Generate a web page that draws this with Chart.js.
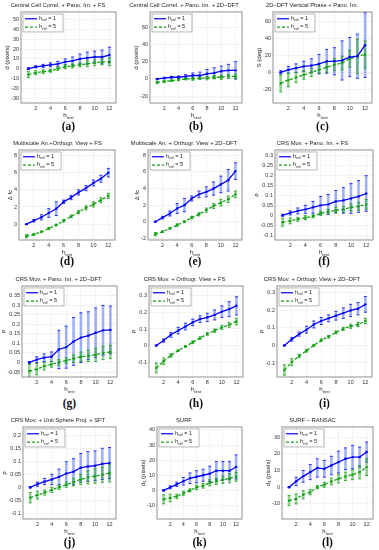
<!DOCTYPE html>
<html>
<head>
<meta charset="utf-8">
<script src="https://cdn.jsdelivr.net/npm/chart.js@4.4.1/dist/chart.umd.min.js"></script>
<style>
  body { margin: 0; background: #fff; width: 379px; height: 550px; position: relative; overflow: hidden; }
  canvas { position: absolute; }
  .cap { position: absolute; font: bold 11.5px "Liberation Serif", "DejaVu Serif", serif; color: #111; transform: translate(-50%, -50%); white-space: nowrap; }
</style>
</head>
<body>
<script>
const hTest = [1, 2, 3, 4, 5, 6, 7, 8, 9, 10, 11, 12];
const xTicks = [2, 4, 6, 8, 10, 12];

// (a)
const aMean1 = [0, 2, 3, 4, 5, 7, 8, 10, 11, 12, 12, 14];
const aErr1  = [1, 1, 1.5, 2, 2.5, 3, 4, 5, 6, 6, 7, 8];
const aMean5 = [-6, -4, -3, -2, 0, 2, 3, 4, 5, 6, 7, 7];
const aErr5  = [3, 2, 2, 1.5, 1.5, 2, 2, 2, 3, 3, 3, 4];
// (b)
const bMean1 = [0, 1, 2, 2, 3, 4, 4, 6, 7, 9, 10, 10];
const bErr1  = [0.5, 1, 1, 1.5, 2, 3, 4, 5, 6, 6, 7, 10];
const bMean5 = [-4, -3, -2, -1, 0, 0, 1, 1, 2, 2, 3, 3];
const bErr5  = [1.5, 1, 1, 1, 1, 1.5, 1.5, 2, 2, 2.5, 2.5, 3];
// (c)
const cMean1 = [0, 3, 5, 7, 8, 10, 13, 13, 14, 18, 19, 32];
const cErr1  = [2, 4, 5, 6, 8, 11, 14, 16, 23, 23, 26, 38];
const cMean5 = [-13, -9, -6, -3, 0, 3, 6, 9, 11, 16, 19, 21];
const cErr5  = [10, 8, 6, 5, 5, 5, 6, 7, 8, 10, 20, 16];
// (d)
const dMean1 = [0, 0.4, 0.8, 1.3, 1.8, 2.6, 3.1, 3.7, 4.2, 4.8, 5.3, 6.0];
const dErr1  = [0.05, 0.15, 0.3, 0.5, 0.8, 0.2, 0.25, 0.3, 0.3, 0.35, 0.4, 0.5];
const dMean5 = [-1.4, -1.2, -0.9, -0.5, -0.1, 0.4, 0.9, 1.4, 1.9, 2.3, 2.8, 3.3];
const dErr5  = [0.2, 0.1, 0.1, 0.1, 0.1, 0.15, 0.15, 0.2, 0.25, 0.3, 0.3, 0.3];
// (e)
const eMean1 = [0, 0.5, 1.0, 1.6, 2.0, 2.8, 3.3, 3.6, 4.0, 4.5, 5.0, 6.1];
const eErr1  = [0.05, 0.15, 0.3, 0.6, 0.8, 0.3, 0.4, 0.6, 0.8, 1.0, 1.3, 1.0];
const eMean5 = [-1.5, -1.2, -0.8, -0.4, 0, 0.5, 0.9, 1.4, 1.9, 2.3, 2.7, 3.3];
const eErr5  = [0.2, 0.1, 0.1, 0.15, 0.1, 0.15, 0.2, 0.25, 0.3, 0.4, 0.4, 0.4];
// (f)
const fMean1 = [0, 0.012, 0.022, 0.03, 0.04, 0.05, 0.055, 0.07, 0.075, 0.085, 0.095, 0.11];
const fErr1  = [0.005, 0.01, 0.015, 0.02, 0.03, 0.045, 0.05, 0.055, 0.065, 0.075, 0.08, 0.09];
const fMean5 = [-0.035, -0.028, -0.02, -0.012, -0.005, 0.01, 0.018, 0.025, 0.03, 0.04, 0.045, 0.055];
const fErr5  = [0.02, 0.015, 0.01, 0.01, 0.008, 0.01, 0.012, 0.015, 0.015, 0.018, 0.02, 0.025];
// (g)
const gMean1 = [0, 0.015, 0.025, 0.03, 0.068, 0.08, 0.11, 0.13, 0.14, 0.155, 0.168, 0.17];
const gErr1  = [0.005, 0.015, 0.02, 0.025, 0.1, 0.11, 0.125, 0.13, 0.125, 0.13, 0.13, 0.125];
const gMean5 = [-0.045, -0.035, -0.02, -0.01, 0, 0.01, 0.02, 0.03, 0.035, 0.04, 0.05, 0.055];
const gErr5  = [0.035, 0.03, 0.02, 0.015, 0.015, 0.015, 0.02, 0.025, 0.03, 0.035, 0.035, 0.035];
// (h)
const hMean1 = [0, 0.03, 0.065, 0.09, 0.115, 0.14, 0.16, 0.17, 0.185, 0.205, 0.22, 0.24];
const hErr1  = [0.003, 0.01, 0.015, 0.02, 0.02, 0.02, 0.02, 0.025, 0.03, 0.035, 0.045, 0.055];
const hMean5 = [-0.135, -0.095, -0.06, -0.03, -0.005, 0.02, 0.045, 0.07, 0.09, 0.11, 0.125, 0.145];
const hErr5  = [0.03, 0.02, 0.01, 0.005, 0.005, 0.008, 0.008, 0.008, 0.01, 0.012, 0.015, 0.02];
// (i)
const iMean1 = [0, 0.035, 0.065, 0.09, 0.12, 0.14, 0.155, 0.17, 0.185, 0.2, 0.21, 0.235];
const iErr1  = [0.003, 0.01, 0.012, 0.02, 0.02, 0.02, 0.02, 0.025, 0.03, 0.035, 0.035, 0.045];
const iMean5 = [-0.14, -0.095, -0.06, -0.03, 0, 0.03, 0.05, 0.075, 0.095, 0.11, 0.12, 0.14];
const iErr5  = [0.03, 0.02, 0.01, 0.008, 0.005, 0.008, 0.008, 0.008, 0.01, 0.012, 0.012, 0.015];
// (j)
const jMean1 = [0, 0.012, 0.022, 0.03, 0.04, 0.053, 0.06, 0.075, 0.08, 0.083, 0.09, 0.093];
const jErr1  = [0.003, 0.008, 0.012, 0.02, 0.03, 0.045, 0.05, 0.055, 0.057, 0.057, 0.06, 0.06];
const jMean5 = [-0.04, -0.03, -0.02, -0.01, 0, 0.01, 0.02, 0.03, 0.038, 0.043, 0.048, 0.055];
const jErr5  = [0.02, 0.015, 0.01, 0.01, 0.008, 0.01, 0.015, 0.02, 0.025, 0.028, 0.03, 0.035];
// (k)
const kMean1 = [0, 2, 4, 6, 8, 9, 10, 11, 13, 13, 13, 15.5];
const kErr1  = [0.5, 1, 1.5, 2.5, 3.5, 4, 4, 5, 6, 6, 6, 8];
const kMean5 = [-6, -5, -4, -2, 0, 2, 3, 5, 6, 7, 8, 9];
const kErr5  = [3, 2.5, 1.5, 1.5, 1, 1.5, 1.5, 2, 2, 2.5, 3, 3];
// (l)
const lMean1 = [0, 3.5, 6.5, 9, 11.5, 11, 13, 15, 17, 18, 18, 21];
const lErr1  = [0.3, 2.5, 3.5, 4.5, 5.5, 5, 5.5, 6.5, 6.5, 7, 6, 6];
const lMean5 = [-8, -7, -4.5, -3, 0, 1.5, 3.5, 5, 6.5, 7.5, 9, 12];
const lErr5  = [3, 3, 2.5, 1.5, 1, 1.5, 2, 2.5, 2.5, 3, 4, 5];

const ticksPix   = [-30, -20, -10, 0, 10, 20, 30, 40, 50];
const ticksDeg   = [-20, 0, 20, 40, 60];
const ticksFc    = [0, 2, 4, 6, 8];
const ticksFc2   = [-2, 0, 2, 4, 6, 8];
const ticksRhoF  = [-0.1, -0.05, 0, 0.05, 0.1, 0.15, 0.2, 0.25, 0.3];
const ticksRhoG  = [-0.05, 0, 0.05, 0.1, 0.15, 0.2, 0.25, 0.3, 0.35];
const ticksRhoH  = [-0.1, 0, 0.1, 0.2, 0.3];
const ticksRhoJ  = [-0.1, -0.05, 0, 0.05, 0.1, 0.15, 0.2];
const ticksSurfK = [-10, 0, 10, 20, 30, 40];
const ticksSurfL = [-10, 0, 10, 20, 30];

const FONT = '"Liberation Sans", Arial, sans-serif';
const colX = [0, 126, 252], colW = [126, 126, 127];
const rowTop = [12, 150, 286, 427], rowH = [91, 90, 91, 92], capY = [126, 261, 403, 542];

const panels = [
  { tag: '(a)', r: 0, c: 0, pl: 21, pr: 116, title: 'Central Cell Correl. + Pano. Im. + FS', yl: [['d (pixels)']], min: -35, max: 58, ticks: ticksPix, s: [aMean1, aErr1, aMean5, aErr5] },
  { tag: '(b)', r: 0, c: 1, pl: 150, pr: 242, title: 'Central Cell Correl. + Pano. Im. + 2D\u2212DFT', yl: [['d (pixels)']], min: -28, max: 78, ticks: ticksDeg, s: [bMean1, bErr1, bMean5, bErr5] },
  { tag: '(c)', r: 0, c: 2, pl: 273, pr: 372, title: '2D\u2212DFT Vertical Phase + Pano. Im.', yl: [['S (deg)']], min: -36, max: 71, ticks: ticksDeg, s: [cMean1, cErr1, cMean5, cErr5] },
  { tag: '(d)', r: 1, c: 0, pl: 19, pr: 115, title: 'Multiscale An.+Orthogr. View + FS', yl: [['\u0394 fc']], min: -1.85, max: 8.65, ticks: ticksFc, s: [dMean1, dErr1, dMean5, dErr5] },
  { tag: '(e)', r: 1, c: 1, pl: 148, pr: 242, title: 'Multiscale An. + Orthogr. View + 2D\u2212DFT', yl: [['\u0394 fc']], min: -2.2, max: 8.65, ticks: ticksFc2, s: [eMean1, eErr1, eMean5, eErr5] },
  { tag: '(f)', r: 1, c: 2, pl: 275, pr: 373, title: 'CRS Mov. + Pano. Im. + FS', yl: [['\u03c1']], min: -0.125, max: 0.33, ticks: ticksRhoF, s: [fMean1, fErr1, fMean5, fErr5] },
  { tag: '(g)', r: 2, c: 0, pl: 22, pr: 117, title: 'CRS Mov. + Pano. Im. + 2D\u2212DFT', yl: [['\u03c1']], min: -0.076, max: 0.4, ticks: ticksRhoG, s: [gMean1, gErr1, gMean5, gErr5] },
  { tag: '(h)', r: 2, c: 1, pl: 149, pr: 243, title: 'CRS Mov. + Orthogr. View + FS', yl: [['\u03c1']], min: -0.19, max: 0.36, ticks: ticksRhoH, s: [hMean1, hErr1, hMean5, hErr5] },
  { tag: '(i)', r: 2, c: 2, pl: 277, pr: 372, title: 'CRS Mov. + Orthogr. View + 2D\u2212DFT', yl: [['\u03c1']], min: -0.18, max: 0.34, ticks: ticksRhoH, s: [iMean1, iErr1, iMean5, iErr5] },
  { tag: '(j)', r: 3, c: 0, pl: 23, pr: 116, title: 'CRS Mov. + Unit Sphere Proj. + SFT', yl: [['\u03c1']], min: -0.122, max: 0.232, ticks: ticksRhoJ, s: [jMean1, jErr1, jMean5, jErr5] },
  { tag: '(k)', r: 3, c: 1, pl: 157, pr: 242, title: 'SURF', yl: [['d'], ['1', 1], [' (pixels)']], min: -19, max: 42, ticks: ticksSurfK, s: [kMean1, kErr1, kMean5, kErr5] },
  { tag: '(l)', r: 3, c: 2, pl: 282, pr: 373, title: 'SURF \u2212 RANSAC', yl: [['d'], ['1', 1], [' (pixels)']], min: -19, max: 36, ticks: ticksSurfL, s: [lMean1, lErr1, lMean5, lErr5] }
];

// text with subscripts: parts = [[text, isSub], ...]
function richText(ctx, parts, x, y, size, center) {
  const widths = parts.map(([t, sub]) => {
    ctx.font = (sub ? size * 0.72 : size) + 'px ' + FONT;
    return ctx.measureText(t).width;
  });
  let cx = center ? x - widths.reduce((a, b) => a + b, 0) / 2 : x;
  parts.forEach(([t, sub], i) => {
    ctx.font = (sub ? size * 0.72 : size) + 'px ' + FONT;
    ctx.fillText(t, cx, sub ? y + size * 0.35 : y);
    cx += widths[i];
  });
}

const extras = {
  id: 'extras',
  beforeDatasetsDraw(chart) {
    const { ctx, chartArea: a, scales: { x, y } } = chart;
    ctx.save();
    ctx.beginPath();
    ctx.rect(a.left, a.top, a.right - a.left, a.bottom - a.top);
    ctx.clip();
    chart.data.datasets.forEach(ds => {
      ds.data.forEach((p, i) => {
        const px = x.getPixelForValue(p.x);
        const lo = y.getPixelForValue(p.y - ds.err[i]);
        const hi = y.getPixelForValue(p.y + ds.err[i]);
        ctx.strokeStyle = ds.barColor;
        ctx.lineWidth = 2.6;
        ctx.beginPath(); ctx.moveTo(px, lo); ctx.lineTo(px, hi); ctx.stroke();
        ctx.strokeStyle = ds.borderColor;
        ctx.lineWidth = 0.8;
        ctx.beginPath();
        ctx.moveTo(px - 1.5, lo); ctx.lineTo(px + 1.5, lo);
        ctx.moveTo(px - 1.5, hi); ctx.lineTo(px + 1.5, hi);
        ctx.stroke();
      });
    });
    ctx.restore();
  },
  afterDraw(chart) {
    const { ctx, chartArea: a, scales: { y } } = chart;
    const p = chart.options.plugins.extras;
    ctx.save();
    ctx.strokeStyle = '#777';
    ctx.lineWidth = 0.8;
    ctx.strokeRect(a.left, a.top, a.right - a.left, a.bottom - a.top);

    ctx.fillStyle = '#222';
    ctx.textBaseline = 'middle';
    ctx.textAlign = 'left';
    // x label
    richText(ctx, [['h'], ['test', 1]], (a.left + a.right) / 2, a.bottom + 12.5, 6, true);
    // y label
    ctx.font = '5.5px ' + FONT;
    const tw = Math.max(...y.ticks.map(t => ctx.measureText(String(t.value)).width));
    ctx.translate(Math.max(a.left - 2 - tw - 4, 3.5), (a.top + a.bottom) / 2);
    ctx.rotate(-Math.PI / 2);
    richText(ctx, p.yl, 0, 0, 6, true);
    ctx.setTransform(1, 0, 0, 1, 0, 0);

    // legend box
    const lx = a.left + 2, ly = a.top + 2, lw = 40, lh = 18;
    ctx.fillStyle = '#fff';
    ctx.fillRect(lx, ly, lw, lh);
    ctx.strokeStyle = '#888';
    ctx.lineWidth = 0.6;
    ctx.strokeRect(lx, ly, lw, lh);
    chart.data.datasets.forEach((ds, k) => {
      const yy = ly + 4.8 + k * 8.4;
      ctx.strokeStyle = ds.borderColor;
      ctx.lineWidth = 1.2;
      ctx.setLineDash(ds.borderDash || []);
      ctx.beginPath(); ctx.moveTo(lx + 2, yy); ctx.lineTo(lx + 14, yy); ctx.stroke();
      ctx.setLineDash([]);
      ctx.fillStyle = '#222';
      richText(ctx, [['h'], ['ref', 1], [' = ' + ds.refVal]], lx + 16, yy - 0.5, 5.5, false);
    });
    ctx.restore();
  }
};

panels.forEach(p => {
  const cv = document.createElement('canvas');
  const top = rowTop[p.r] - 12;
  const w = colW[p.c], h = 12 + rowH[p.r] + 8 + 10;
  cv.width = w; cv.height = h;
  cv.style.left = colX[p.c] + 'px';
  cv.style.top = top + 'px';
  document.body.appendChild(cv);

  const cap = document.createElement('div');
  cap.className = 'cap';
  cap.textContent = p.tag;
  cap.style.left = ((p.pl + p.pr) / 2) + 'px';
  cap.style.top = capY[p.r] + 'px';
  document.body.appendChild(cap);

  const [m1, e1, m5, e5] = p.s;
  new Chart(cv.getContext('2d'), {
    type: 'line',
    data: {
      datasets: [
        { refVal: 1, data: hTest.map((x, i) => ({ x, y: m1[i] })), err: e1,
          borderColor: '#0000ff', backgroundColor: '#0000ff', barColor: 'rgba(70,100,255,0.5)',
          borderWidth: 1.3, pointRadius: 1.2, pointBorderWidth: 0 },
        { refVal: 5, data: hTest.map((x, i) => ({ x, y: m5[i] })), err: e5,
          borderColor: '#13a013', backgroundColor: '#13a013', barColor: 'rgba(40,170,40,0.5)',
          borderWidth: 1.3, borderDash: [3, 2], pointRadius: 1.2, pointBorderWidth: 0 }
      ]
    },
    options: {
      responsive: false,
      animation: false,
      layout: { padding: { left: 0, top: 0, right: colX[p.c] + w - p.pr, bottom: 10 } },
      plugins: {
        legend: { display: false },
        tooltip: { enabled: false },
        title: { display: true, text: p.title, color: '#222', font: { family: FONT, size: 5.8, weight: 'normal', lineHeight: 1.2 }, padding: { top: 2, bottom: 3 } },
        extras: { yl: p.yl }
      },
      scales: {
        x: {
          type: 'linear', min: 0, max: 12.9,
          afterBuildTicks: s => { s.ticks = xTicks.map(v => ({ value: v })); },
          afterFit: s => { s.height = 8; },
          ticks: { color: '#333', font: { family: FONT, size: 5.5 }, padding: 2, maxRotation: 0, callback: v => String(v) },
          grid: { color: '#cfcfcf', lineWidth: 0.6, drawTicks: false },
          border: { display: false, dash: [1, 1.5] }
        },
        y: {
          min: p.min, max: p.max,
          afterBuildTicks: s => { s.ticks = p.ticks.map(v => ({ value: v })); },
          afterFit: s => { s.width = p.pl - colX[p.c]; },
          ticks: { color: '#333', font: { family: FONT, size: 5.5 }, padding: 2, callback: v => String(v) },
          grid: { color: '#cfcfcf', lineWidth: 0.6, drawTicks: false },
          border: { display: false, dash: [1, 1.5] }
        }
      }
    },
    plugins: [extras]
  });
});
</script>
</body>
</html>
